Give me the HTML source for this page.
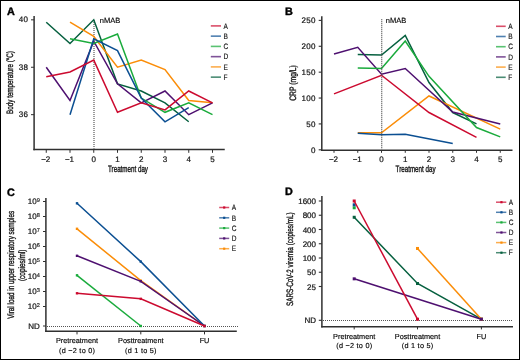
<!DOCTYPE html>
<html><head><meta charset="utf-8"><style>
html,body{margin:0;padding:0;background:#fff;}
.wrap{position:relative;width:520px;height:360px;overflow:hidden;background:#fff;}
svg{position:absolute;left:0;top:0;will-change:transform;text-rendering:geometricPrecision;}
text.ttl{stroke-width:0.38px;}
text.pl{stroke-width:0.4px;stroke:#000;}
text.lg{stroke-width:0.15px;}
text.cat{stroke-width:0.14px;fill:#000;stroke:#000;}
text{stroke:#1a1a1a;stroke-width:0.22px;stroke-linejoin:round;font-family:"Liberation Sans", sans-serif;}
</style></head><body><div class="wrap">
<svg width="520" height="360" viewBox="0 0 520 360">
<rect x="0" y="0" width="520" height="360" fill="#fff"/>
<line x1="34.10" y1="16.00" x2="34.10" y2="150.20" stroke="#303030" stroke-width="1.5" />
<line x1="33.40" y1="149.50" x2="224.75" y2="149.50" stroke="#303030" stroke-width="1.5" />
<line x1="31.00" y1="19.83" x2="34.10" y2="19.83" stroke="#303030" stroke-width="1" />
<text x="28.20" y="22.43" font-size="8" text-anchor="end" font-weight="normal" fill="#111" letter-spacing="0.3">40</text>
<line x1="31.00" y1="67.25" x2="34.10" y2="67.25" stroke="#303030" stroke-width="1" />
<text x="28.20" y="69.85" font-size="8" text-anchor="end" font-weight="normal" fill="#111" letter-spacing="0.3">38</text>
<line x1="31.00" y1="114.67" x2="34.10" y2="114.67" stroke="#303030" stroke-width="1" />
<text x="28.20" y="117.27" font-size="8" text-anchor="end" font-weight="normal" fill="#111" letter-spacing="0.3">36</text>
<line x1="46.25" y1="149.50" x2="46.25" y2="152.80" stroke="#303030" stroke-width="1" />
<text x="45.75" y="162.20" font-size="8" text-anchor="middle" font-weight="normal" fill="#111" >−2</text>
<line x1="70.00" y1="149.50" x2="70.00" y2="152.80" stroke="#303030" stroke-width="1" />
<text x="69.50" y="162.20" font-size="8" text-anchor="middle" font-weight="normal" fill="#111" >−1</text>
<line x1="93.75" y1="149.50" x2="93.75" y2="152.80" stroke="#303030" stroke-width="1" />
<text x="93.75" y="162.20" font-size="8" text-anchor="middle" font-weight="normal" fill="#111" >0</text>
<line x1="117.50" y1="149.50" x2="117.50" y2="152.80" stroke="#303030" stroke-width="1" />
<text x="117.50" y="162.20" font-size="8" text-anchor="middle" font-weight="normal" fill="#111" >1</text>
<line x1="141.25" y1="149.50" x2="141.25" y2="152.80" stroke="#303030" stroke-width="1" />
<text x="141.25" y="162.20" font-size="8" text-anchor="middle" font-weight="normal" fill="#111" >2</text>
<line x1="165.00" y1="149.50" x2="165.00" y2="152.80" stroke="#303030" stroke-width="1" />
<text x="165.00" y="162.20" font-size="8" text-anchor="middle" font-weight="normal" fill="#111" >3</text>
<line x1="188.75" y1="149.50" x2="188.75" y2="152.80" stroke="#303030" stroke-width="1" />
<text x="188.75" y="162.20" font-size="8" text-anchor="middle" font-weight="normal" fill="#111" >4</text>
<line x1="212.50" y1="149.50" x2="212.50" y2="152.80" stroke="#303030" stroke-width="1" />
<text x="212.50" y="162.20" font-size="8" text-anchor="middle" font-weight="normal" fill="#111" >5</text>
<text class="ttl" x="128.00" y="171.70" font-size="9.3" text-anchor="middle" fill="#111" textLength="40" lengthAdjust="spacingAndGlyphs">Treatment day</text>
<text class="ttl" transform="translate(13.00,82.50) rotate(-90)" x="0" y="0" font-size="9.3" text-anchor="middle" fill="#111" textLength="62.8" lengthAdjust="spacingAndGlyphs">Body temperature (°C)</text>
<text x="6.90" y="15.00" font-size="10.8" text-anchor="start" font-weight="bold" fill="#000" class="pl">A</text>
<text x="99.80" y="22.90" font-size="7.5" text-anchor="start" font-weight="normal" fill="#111" class="cat">nMAB</text>
<line x1="94.00" y1="20.00" x2="94.00" y2="148.80" stroke="#666" stroke-width="1.3" stroke-dasharray="1,1"/>
<polyline points="46.25,22.20 70.00,43.54 93.75,19.83 117.50,83.85 141.25,90.96 165.00,102.81 188.75,121.78" fill="none" stroke="#06603f" stroke-width="1.5" stroke-linejoin="miter"/>
<polyline points="70.00,22.20 93.75,36.43 117.50,67.25 141.25,60.14 165.00,69.62 188.75,100.44 212.50,102.81" fill="none" stroke="#fb8d08" stroke-width="1.5" stroke-linejoin="miter"/>
<polyline points="46.25,67.25 70.00,100.44 93.75,41.17 117.50,83.85 141.25,102.81 165.00,90.96 188.75,114.67 212.50,102.81" fill="none" stroke="#4e1070" stroke-width="1.5" stroke-linejoin="miter"/>
<polyline points="70.00,38.80 93.75,43.54 117.50,34.06 141.25,98.07 165.00,112.30 188.75,102.81 212.50,114.67" fill="none" stroke="#1aab3c" stroke-width="1.5" stroke-linejoin="miter"/>
<polyline points="70.00,114.67 93.75,38.80 117.50,50.65 141.25,98.07 165.00,121.78 188.75,107.56" fill="none" stroke="#0b4f92" stroke-width="1.5" stroke-linejoin="miter"/>
<polyline points="46.25,76.73 70.00,71.99 93.75,60.14 117.50,112.30 141.25,102.81 165.00,109.93 188.75,90.96 212.50,102.81" fill="none" stroke="#cc0a2f" stroke-width="1.5" stroke-linejoin="miter"/>
<line x1="210.80" y1="25.90" x2="221.00" y2="25.90" stroke="#cc0a2f" stroke-width="1.6" stroke-opacity="0.72"/>
<text x="223.60" y="28.60" font-size="7.8" text-anchor="start" font-weight="normal" fill="#111" class="lg" textLength="4.37" lengthAdjust="spacingAndGlyphs">A</text>
<line x1="210.80" y1="36.15" x2="221.00" y2="36.15" stroke="#0b4f92" stroke-width="1.6" stroke-opacity="0.72"/>
<text x="223.60" y="38.85" font-size="7.8" text-anchor="start" font-weight="normal" fill="#111" class="lg" textLength="4.37" lengthAdjust="spacingAndGlyphs">B</text>
<line x1="210.80" y1="46.40" x2="221.00" y2="46.40" stroke="#1aab3c" stroke-width="1.6" stroke-opacity="0.72"/>
<text x="223.60" y="49.10" font-size="7.8" text-anchor="start" font-weight="normal" fill="#111" class="lg" textLength="4.73" lengthAdjust="spacingAndGlyphs">C</text>
<line x1="210.80" y1="56.65" x2="221.00" y2="56.65" stroke="#4e1070" stroke-width="1.6" stroke-opacity="0.72"/>
<text x="223.60" y="59.35" font-size="7.8" text-anchor="start" font-weight="normal" fill="#111" class="lg" textLength="4.73" lengthAdjust="spacingAndGlyphs">D</text>
<line x1="210.80" y1="66.90" x2="221.00" y2="66.90" stroke="#fb8d08" stroke-width="1.6" stroke-opacity="0.72"/>
<text x="223.60" y="69.60" font-size="7.8" text-anchor="start" font-weight="normal" fill="#111" class="lg" textLength="4.37" lengthAdjust="spacingAndGlyphs">E</text>
<line x1="210.80" y1="77.15" x2="221.00" y2="77.15" stroke="#06603f" stroke-width="1.6" stroke-opacity="0.72"/>
<text x="223.60" y="79.85" font-size="7.8" text-anchor="start" font-weight="normal" fill="#111" class="lg" textLength="4.00" lengthAdjust="spacingAndGlyphs">F</text>
<line x1="321.80" y1="16.25" x2="321.80" y2="150.90" stroke="#303030" stroke-width="1.5" />
<line x1="321.10" y1="150.20" x2="512.50" y2="150.20" stroke="#303030" stroke-width="1.5" />
<line x1="318.70" y1="149.80" x2="321.80" y2="149.80" stroke="#303030" stroke-width="1.1" />
<text x="315.80" y="152.80" font-size="8" text-anchor="end" font-weight="normal" fill="#111" letter-spacing="0.3">0</text>
<line x1="318.70" y1="123.92" x2="321.80" y2="123.92" stroke="#303030" stroke-width="1.1" />
<text x="315.80" y="126.92" font-size="8" text-anchor="end" font-weight="normal" fill="#111" letter-spacing="0.3">50</text>
<line x1="318.70" y1="98.04" x2="321.80" y2="98.04" stroke="#303030" stroke-width="1.1" />
<text x="315.80" y="101.04" font-size="8" text-anchor="end" font-weight="normal" fill="#111" letter-spacing="0.3">100</text>
<line x1="318.70" y1="72.16" x2="321.80" y2="72.16" stroke="#303030" stroke-width="1.1" />
<text x="315.80" y="75.16" font-size="8" text-anchor="end" font-weight="normal" fill="#111" letter-spacing="0.3">150</text>
<line x1="318.70" y1="46.28" x2="321.80" y2="46.28" stroke="#303030" stroke-width="1.1" />
<text x="315.80" y="49.28" font-size="8" text-anchor="end" font-weight="normal" fill="#111" letter-spacing="0.3">200</text>
<line x1="318.70" y1="20.40" x2="321.80" y2="20.40" stroke="#303030" stroke-width="1.1" />
<text x="315.80" y="23.40" font-size="8" text-anchor="end" font-weight="normal" fill="#111" letter-spacing="0.3">250</text>
<line x1="334.00" y1="150.20" x2="334.00" y2="152.80" stroke="#303030" stroke-width="1" />
<text x="333.50" y="162.20" font-size="8" text-anchor="middle" font-weight="normal" fill="#111" >−2</text>
<line x1="357.75" y1="150.20" x2="357.75" y2="152.80" stroke="#303030" stroke-width="1" />
<text x="357.25" y="162.20" font-size="8" text-anchor="middle" font-weight="normal" fill="#111" >−1</text>
<line x1="381.50" y1="150.20" x2="381.50" y2="152.80" stroke="#303030" stroke-width="1" />
<text x="381.50" y="162.20" font-size="8" text-anchor="middle" font-weight="normal" fill="#111" >0</text>
<line x1="405.25" y1="150.20" x2="405.25" y2="152.80" stroke="#303030" stroke-width="1" />
<text x="405.25" y="162.20" font-size="8" text-anchor="middle" font-weight="normal" fill="#111" >1</text>
<line x1="429.00" y1="150.20" x2="429.00" y2="152.80" stroke="#303030" stroke-width="1" />
<text x="429.00" y="162.20" font-size="8" text-anchor="middle" font-weight="normal" fill="#111" >2</text>
<line x1="452.75" y1="150.20" x2="452.75" y2="152.80" stroke="#303030" stroke-width="1" />
<text x="452.75" y="162.20" font-size="8" text-anchor="middle" font-weight="normal" fill="#111" >3</text>
<line x1="476.50" y1="150.20" x2="476.50" y2="152.80" stroke="#303030" stroke-width="1" />
<text x="476.50" y="162.20" font-size="8" text-anchor="middle" font-weight="normal" fill="#111" >4</text>
<line x1="500.25" y1="150.20" x2="500.25" y2="152.80" stroke="#303030" stroke-width="1" />
<text x="500.25" y="162.20" font-size="8" text-anchor="middle" font-weight="normal" fill="#111" >5</text>
<text class="ttl" x="415.60" y="171.70" font-size="9.3" text-anchor="middle" fill="#111" textLength="40" lengthAdjust="spacingAndGlyphs">Treatment day</text>
<text class="ttl" transform="translate(296.40,83.00) rotate(-90)" x="0" y="0" font-size="9.3" text-anchor="middle" fill="#111" textLength="35.7" lengthAdjust="spacingAndGlyphs">CRP (mg/L)</text>
<text x="285.00" y="15.00" font-size="10.8" text-anchor="start" font-weight="bold" fill="#000" class="pl">B</text>
<text x="385.80" y="22.90" font-size="7.5" text-anchor="start" font-weight="normal" fill="#111" class="cat">nMAB</text>
<polyline points="357.75,54.56 381.50,55.08 405.25,35.41 429.00,82.51 452.75,112.53 476.50,123.92" fill="none" stroke="#06603f" stroke-width="1.5" stroke-linejoin="miter"/>
<polyline points="357.75,132.72 381.50,132.72 429.00,95.97 500.25,129.10" fill="none" stroke="#fb8d08" stroke-width="1.5" stroke-linejoin="miter"/>
<polyline points="334.00,54.04 357.75,47.32 381.50,74.23 405.25,68.54 452.75,112.02 500.25,123.92" fill="none" stroke="#4e1070" stroke-width="1.5" stroke-linejoin="miter"/>
<polyline points="357.75,68.02 381.50,68.54 405.25,41.10 429.00,76.30 476.50,127.54 500.25,136.86" fill="none" stroke="#1aab3c" stroke-width="1.5" stroke-linejoin="miter"/>
<polyline points="357.75,133.24 381.50,134.79 405.25,134.27 452.75,143.59" fill="none" stroke="#0b4f92" stroke-width="1.5" stroke-linejoin="miter"/>
<polyline points="334.00,93.90 381.50,75.27 429.00,112.53 476.50,137.38" fill="none" stroke="#cc0a2f" stroke-width="1.5" stroke-linejoin="miter"/>
<line x1="381.70" y1="19.20" x2="381.70" y2="149.50" stroke="#555" stroke-width="1.3" stroke-dasharray="1,1"/>
<line x1="496.00" y1="26.30" x2="505.70" y2="26.30" stroke="#cc0a2f" stroke-width="1.6" stroke-opacity="0.72"/>
<text x="508.20" y="29.00" font-size="7.8" text-anchor="start" font-weight="normal" fill="#111" class="lg" textLength="4.37" lengthAdjust="spacingAndGlyphs">A</text>
<line x1="496.00" y1="36.50" x2="505.70" y2="36.50" stroke="#0b4f92" stroke-width="1.6" stroke-opacity="0.72"/>
<text x="508.20" y="39.20" font-size="7.8" text-anchor="start" font-weight="normal" fill="#111" class="lg" textLength="4.37" lengthAdjust="spacingAndGlyphs">B</text>
<line x1="496.00" y1="46.70" x2="505.70" y2="46.70" stroke="#1aab3c" stroke-width="1.6" stroke-opacity="0.72"/>
<text x="508.20" y="49.40" font-size="7.8" text-anchor="start" font-weight="normal" fill="#111" class="lg" textLength="4.73" lengthAdjust="spacingAndGlyphs">C</text>
<line x1="496.00" y1="56.90" x2="505.70" y2="56.90" stroke="#4e1070" stroke-width="1.6" stroke-opacity="0.72"/>
<text x="508.20" y="59.60" font-size="7.8" text-anchor="start" font-weight="normal" fill="#111" class="lg" textLength="4.73" lengthAdjust="spacingAndGlyphs">D</text>
<line x1="496.00" y1="67.10" x2="505.70" y2="67.10" stroke="#fb8d08" stroke-width="1.6" stroke-opacity="0.72"/>
<text x="508.20" y="69.80" font-size="7.8" text-anchor="start" font-weight="normal" fill="#111" class="lg" textLength="4.37" lengthAdjust="spacingAndGlyphs">E</text>
<line x1="496.00" y1="77.30" x2="505.70" y2="77.30" stroke="#06603f" stroke-width="1.6" stroke-opacity="0.72"/>
<text x="508.20" y="80.00" font-size="7.8" text-anchor="start" font-weight="normal" fill="#111" class="lg" textLength="4.00" lengthAdjust="spacingAndGlyphs">F</text>
<line x1="45.90" y1="198.10" x2="45.90" y2="331.95" stroke="#303030" stroke-width="1.5" />
<line x1="45.20" y1="331.25" x2="236.80" y2="331.25" stroke="#303030" stroke-width="1.5" />
<line x1="43.00" y1="306.50" x2="45.90" y2="306.50" stroke="#303030" stroke-width="1" />
<text x="36.60" y="308.90" font-size="8" text-anchor="end" font-weight="normal" fill="#111" >10</text>
<text x="36.70" y="306.90" font-size="5.6" text-anchor="start" font-weight="normal" fill="#111" style="stroke-width:0.15px">2</text>
<line x1="43.00" y1="291.50" x2="45.90" y2="291.50" stroke="#303030" stroke-width="1" />
<text x="36.60" y="293.90" font-size="8" text-anchor="end" font-weight="normal" fill="#111" >10</text>
<text x="36.70" y="291.90" font-size="5.6" text-anchor="start" font-weight="normal" fill="#111" style="stroke-width:0.15px">3</text>
<line x1="43.00" y1="276.50" x2="45.90" y2="276.50" stroke="#303030" stroke-width="1" />
<text x="36.60" y="278.90" font-size="8" text-anchor="end" font-weight="normal" fill="#111" >10</text>
<text x="36.70" y="276.90" font-size="5.6" text-anchor="start" font-weight="normal" fill="#111" style="stroke-width:0.15px">4</text>
<line x1="43.00" y1="261.50" x2="45.90" y2="261.50" stroke="#303030" stroke-width="1" />
<text x="36.60" y="263.90" font-size="8" text-anchor="end" font-weight="normal" fill="#111" >10</text>
<text x="36.70" y="261.90" font-size="5.6" text-anchor="start" font-weight="normal" fill="#111" style="stroke-width:0.15px">5</text>
<line x1="43.00" y1="246.50" x2="45.90" y2="246.50" stroke="#303030" stroke-width="1" />
<text x="36.60" y="248.90" font-size="8" text-anchor="end" font-weight="normal" fill="#111" >10</text>
<text x="36.70" y="246.90" font-size="5.6" text-anchor="start" font-weight="normal" fill="#111" style="stroke-width:0.15px">6</text>
<line x1="43.00" y1="231.50" x2="45.90" y2="231.50" stroke="#303030" stroke-width="1" />
<text x="36.60" y="233.90" font-size="8" text-anchor="end" font-weight="normal" fill="#111" >10</text>
<text x="36.70" y="231.90" font-size="5.6" text-anchor="start" font-weight="normal" fill="#111" style="stroke-width:0.15px">7</text>
<line x1="43.00" y1="216.50" x2="45.90" y2="216.50" stroke="#303030" stroke-width="1" />
<text x="36.60" y="218.90" font-size="8" text-anchor="end" font-weight="normal" fill="#111" >10</text>
<text x="36.70" y="216.90" font-size="5.6" text-anchor="start" font-weight="normal" fill="#111" style="stroke-width:0.15px">8</text>
<line x1="43.00" y1="201.50" x2="45.90" y2="201.50" stroke="#303030" stroke-width="1" />
<text x="36.60" y="203.90" font-size="8" text-anchor="end" font-weight="normal" fill="#111" >10</text>
<text x="36.70" y="201.90" font-size="5.6" text-anchor="start" font-weight="normal" fill="#111" style="stroke-width:0.15px">9</text>
<line x1="43.00" y1="326.00" x2="45.90" y2="326.00" stroke="#303030" stroke-width="1" />
<text x="39.90" y="329.00" font-size="8" text-anchor="end" font-weight="normal" fill="#111" >ND</text>
<line x1="47.00" y1="326.50" x2="238.00" y2="326.50" stroke="#555" stroke-width="1" stroke-dasharray="1,1"/>
<line x1="77.00" y1="331.25" x2="77.00" y2="334.40" stroke="#303030" stroke-width="1" />
<line x1="140.80" y1="331.25" x2="140.80" y2="334.40" stroke="#303030" stroke-width="1" />
<line x1="204.50" y1="331.25" x2="204.50" y2="334.40" stroke="#303030" stroke-width="1" />
<text x="77.00" y="343.00" font-size="7.3" text-anchor="middle" font-weight="normal" fill="#111" class="cat">Pretreatment</text>
<text x="77.12" y="352.50" font-size="7.3" text-anchor="middle" font-weight="normal" fill="#111" class="cat" letter-spacing="0.25">(d −2 to 0)</text>
<text x="140.80" y="343.00" font-size="7.3" text-anchor="middle" font-weight="normal" fill="#111" class="cat">Posttreatment</text>
<text x="140.92" y="352.50" font-size="7.3" text-anchor="middle" font-weight="normal" fill="#111" class="cat" letter-spacing="0.25">(d 1 to 5)</text>
<text x="204.50" y="342.80" font-size="7.3" text-anchor="middle" font-weight="normal" fill="#111" class="cat">FU</text>
<text class="ttl" transform="translate(14.10,264.80) rotate(-90)" x="0" y="0" font-size="9.3" text-anchor="middle" fill="#111" textLength="108" lengthAdjust="spacingAndGlyphs">Viral load in upper respiratory samples</text>
<text class="ttl" transform="translate(25.30,265.30) rotate(-90)" x="0" y="0" font-size="9.3" text-anchor="middle" fill="#111" textLength="31.5" lengthAdjust="spacingAndGlyphs">(copies/ml)</text>
<text x="7.00" y="196.10" font-size="10.8" text-anchor="start" font-weight="bold" fill="#000" class="pl">C</text>
<polyline points="77.00,228.80 140.80,280.70 204.50,326.00" fill="none" stroke="#fb8d08" stroke-width="1.5" stroke-linejoin="miter"/>
<rect x="75.80" y="227.60" width="2.4" height="2.4" fill="#fb8d08"/>
<rect x="139.60" y="279.50" width="2.4" height="2.4" fill="#fb8d08"/>
<rect x="203.30" y="324.80" width="2.4" height="2.4" fill="#fb8d08"/>
<polyline points="77.00,255.80 140.80,281.30 204.50,326.00" fill="none" stroke="#4e1070" stroke-width="1.5" stroke-linejoin="miter"/>
<rect x="75.80" y="254.60" width="2.4" height="2.4" fill="#4e1070"/>
<rect x="139.60" y="280.10" width="2.4" height="2.4" fill="#4e1070"/>
<rect x="203.30" y="324.80" width="2.4" height="2.4" fill="#4e1070"/>
<polyline points="77.00,275.30 140.80,326.00" fill="none" stroke="#1aab3c" stroke-width="1.5" stroke-linejoin="miter"/>
<rect x="75.80" y="274.10" width="2.4" height="2.4" fill="#1aab3c"/>
<rect x="139.60" y="324.80" width="2.4" height="2.4" fill="#1aab3c"/>
<polyline points="77.00,203.30 140.80,261.65 204.50,326.00" fill="none" stroke="#0b4f92" stroke-width="1.5" stroke-linejoin="miter"/>
<rect x="75.80" y="202.10" width="2.4" height="2.4" fill="#0b4f92"/>
<rect x="139.60" y="260.45" width="2.4" height="2.4" fill="#0b4f92"/>
<rect x="203.30" y="324.80" width="2.4" height="2.4" fill="#0b4f92"/>
<polyline points="77.00,293.30 140.80,298.85 204.50,326.00" fill="none" stroke="#cc0a2f" stroke-width="1.5" stroke-linejoin="miter"/>
<rect x="75.80" y="292.10" width="2.4" height="2.4" fill="#cc0a2f"/>
<rect x="139.60" y="297.65" width="2.4" height="2.4" fill="#cc0a2f"/>
<rect x="203.30" y="324.80" width="2.4" height="2.4" fill="#cc0a2f"/>
<line x1="219.20" y1="207.50" x2="229.20" y2="207.50" stroke="#cc0a2f" stroke-width="1.5" stroke-opacity="0.72"/>
<rect x="223.10" y="206.40" width="2.2" height="2.2" fill="#cc0a2f"/>
<text x="231.70" y="210.20" font-size="7.8" text-anchor="start" font-weight="normal" fill="#111" class="lg" textLength="4.37" lengthAdjust="spacingAndGlyphs">A</text>
<line x1="219.20" y1="217.80" x2="229.20" y2="217.80" stroke="#0b4f92" stroke-width="1.5" stroke-opacity="0.72"/>
<rect x="223.10" y="216.70" width="2.2" height="2.2" fill="#0b4f92"/>
<text x="231.70" y="220.50" font-size="7.8" text-anchor="start" font-weight="normal" fill="#111" class="lg" textLength="4.37" lengthAdjust="spacingAndGlyphs">B</text>
<line x1="219.20" y1="228.10" x2="229.20" y2="228.10" stroke="#1aab3c" stroke-width="1.5" stroke-opacity="0.72"/>
<rect x="223.10" y="227.00" width="2.2" height="2.2" fill="#1aab3c"/>
<text x="231.70" y="230.80" font-size="7.8" text-anchor="start" font-weight="normal" fill="#111" class="lg" textLength="4.73" lengthAdjust="spacingAndGlyphs">C</text>
<line x1="219.20" y1="238.40" x2="229.20" y2="238.40" stroke="#4e1070" stroke-width="1.5" stroke-opacity="0.72"/>
<rect x="223.10" y="237.30" width="2.2" height="2.2" fill="#4e1070"/>
<text x="231.70" y="241.10" font-size="7.8" text-anchor="start" font-weight="normal" fill="#111" class="lg" textLength="4.73" lengthAdjust="spacingAndGlyphs">D</text>
<line x1="219.20" y1="248.70" x2="229.20" y2="248.70" stroke="#fb8d08" stroke-width="1.5" stroke-opacity="0.72"/>
<rect x="223.10" y="247.60" width="2.2" height="2.2" fill="#fb8d08"/>
<text x="231.70" y="251.40" font-size="7.8" text-anchor="start" font-weight="normal" fill="#111" class="lg" textLength="4.37" lengthAdjust="spacingAndGlyphs">E</text>
<line x1="321.90" y1="196.00" x2="321.90" y2="327.50" stroke="#303030" stroke-width="1.5" />
<line x1="321.20" y1="326.80" x2="513.00" y2="326.80" stroke="#303030" stroke-width="1.5" />
<line x1="318.80" y1="201.00" x2="321.90" y2="201.00" stroke="#303030" stroke-width="1.1" />
<text x="316.00" y="204.00" font-size="8" text-anchor="end" font-weight="normal" fill="#111" >1600</text>
<line x1="318.80" y1="215.25" x2="321.90" y2="215.25" stroke="#303030" stroke-width="1.1" />
<text x="316.00" y="218.25" font-size="8" text-anchor="end" font-weight="normal" fill="#111" >800</text>
<line x1="318.80" y1="229.50" x2="321.90" y2="229.50" stroke="#303030" stroke-width="1.1" />
<text x="316.00" y="232.50" font-size="8" text-anchor="end" font-weight="normal" fill="#111" >400</text>
<line x1="318.80" y1="243.75" x2="321.90" y2="243.75" stroke="#303030" stroke-width="1.1" />
<text x="316.00" y="246.75" font-size="8" text-anchor="end" font-weight="normal" fill="#111" >200</text>
<line x1="318.80" y1="258.00" x2="321.90" y2="258.00" stroke="#303030" stroke-width="1.1" />
<text x="316.00" y="261.00" font-size="8" text-anchor="end" font-weight="normal" fill="#111" >100</text>
<line x1="318.80" y1="272.25" x2="321.90" y2="272.25" stroke="#303030" stroke-width="1.1" />
<text x="316.00" y="275.25" font-size="8" text-anchor="end" font-weight="normal" fill="#111" >50</text>
<line x1="318.80" y1="286.50" x2="321.90" y2="286.50" stroke="#303030" stroke-width="1.1" />
<text x="316.00" y="289.50" font-size="8" text-anchor="end" font-weight="normal" fill="#111" >25</text>
<line x1="318.80" y1="320.30" x2="321.90" y2="320.30" stroke="#303030" stroke-width="1.1" />
<text x="316.00" y="323.00" font-size="8" text-anchor="end" font-weight="normal" fill="#111" >ND</text>
<line x1="323.00" y1="320.50" x2="513.00" y2="320.50" stroke="#555" stroke-width="1" stroke-dasharray="1,1"/>
<line x1="354.20" y1="326.80" x2="354.20" y2="329.40" stroke="#303030" stroke-width="1" />
<line x1="417.50" y1="326.80" x2="417.50" y2="329.40" stroke="#303030" stroke-width="1" />
<line x1="481.40" y1="326.80" x2="481.40" y2="329.40" stroke="#303030" stroke-width="1" />
<text x="354.20" y="338.50" font-size="7.3" text-anchor="middle" font-weight="normal" fill="#111" class="cat">Pretreatment</text>
<text x="354.32" y="348.00" font-size="7.3" text-anchor="middle" font-weight="normal" fill="#111" class="cat" letter-spacing="0.25">(d −2 to 0)</text>
<text x="417.50" y="338.50" font-size="7.3" text-anchor="middle" font-weight="normal" fill="#111" class="cat">Posttreatment</text>
<text x="417.62" y="348.00" font-size="7.3" text-anchor="middle" font-weight="normal" fill="#111" class="cat" letter-spacing="0.25">(d 1 to 5)</text>
<text x="481.40" y="338.50" font-size="7.3" text-anchor="middle" font-weight="normal" fill="#111" class="cat">FU</text>
<text class="ttl" transform="translate(293.00,259.20) rotate(-90)" x="0" y="0" font-size="9.3" text-anchor="middle" fill="#111" textLength="93.5" lengthAdjust="spacingAndGlyphs">SARS-CoV-2 viremia (copies/mL)</text>
<text x="285.00" y="194.90" font-size="10.8" text-anchor="start" font-weight="bold" fill="#000" class="pl">D</text>
<polyline points="354.20,217.27 417.50,283.52 481.40,319.20" fill="none" stroke="#06603f" stroke-width="1.5" stroke-linejoin="miter"/>
<rect x="352.70" y="215.77" width="3" height="3" fill="#06603f"/>
<rect x="416.00" y="282.02" width="3" height="3" fill="#06603f"/>
<rect x="479.90" y="317.70" width="3" height="3" fill="#06603f"/>
<polyline points="417.50,248.47 481.40,319.20" fill="none" stroke="#fb8d08" stroke-width="1.5" stroke-linejoin="miter"/>
<rect x="416.00" y="246.97" width="3" height="3" fill="#fb8d08"/>
<rect x="479.90" y="317.70" width="3" height="3" fill="#fb8d08"/>
<polyline points="354.20,278.83 481.40,319.20" fill="none" stroke="#4e1070" stroke-width="1.5" stroke-linejoin="miter"/>
<rect x="352.70" y="277.33" width="3" height="3" fill="#4e1070"/>
<rect x="479.90" y="317.70" width="3" height="3" fill="#4e1070"/>
<rect x="352.70" y="206.29" width="3" height="3" fill="#1aab3c"/>
<rect x="352.70" y="203.30" width="3" height="3" fill="#0b4f92"/>
<polyline points="354.20,201.00 417.50,319.20" fill="none" stroke="#cc0a2f" stroke-width="1.5" stroke-linejoin="miter"/>
<rect x="352.70" y="199.50" width="3" height="3" fill="#cc0a2f"/>
<rect x="416.00" y="317.70" width="3" height="3" fill="#cc0a2f"/>
<line x1="496.00" y1="202.20" x2="506.30" y2="202.20" stroke="#cc0a2f" stroke-width="1.5" stroke-opacity="0.72"/>
<rect x="500.35" y="201.10" width="2.2" height="2.2" fill="#cc0a2f"/>
<text x="508.80" y="204.90" font-size="7.8" text-anchor="start" font-weight="normal" fill="#111" class="lg" textLength="4.37" lengthAdjust="spacingAndGlyphs">A</text>
<line x1="496.00" y1="212.30" x2="506.30" y2="212.30" stroke="#0b4f92" stroke-width="1.5" stroke-opacity="0.72"/>
<rect x="500.35" y="211.20" width="2.2" height="2.2" fill="#0b4f92"/>
<text x="508.80" y="215.00" font-size="7.8" text-anchor="start" font-weight="normal" fill="#111" class="lg" textLength="4.37" lengthAdjust="spacingAndGlyphs">B</text>
<line x1="496.00" y1="222.40" x2="506.30" y2="222.40" stroke="#1aab3c" stroke-width="1.5" stroke-opacity="0.72"/>
<rect x="500.35" y="221.30" width="2.2" height="2.2" fill="#1aab3c"/>
<text x="508.80" y="225.10" font-size="7.8" text-anchor="start" font-weight="normal" fill="#111" class="lg" textLength="4.73" lengthAdjust="spacingAndGlyphs">C</text>
<line x1="496.00" y1="232.50" x2="506.30" y2="232.50" stroke="#4e1070" stroke-width="1.5" stroke-opacity="0.72"/>
<rect x="500.35" y="231.40" width="2.2" height="2.2" fill="#4e1070"/>
<text x="508.80" y="235.20" font-size="7.8" text-anchor="start" font-weight="normal" fill="#111" class="lg" textLength="4.73" lengthAdjust="spacingAndGlyphs">D</text>
<line x1="496.00" y1="242.60" x2="506.30" y2="242.60" stroke="#fb8d08" stroke-width="1.5" stroke-opacity="0.72"/>
<rect x="500.35" y="241.50" width="2.2" height="2.2" fill="#fb8d08"/>
<text x="508.80" y="245.30" font-size="7.8" text-anchor="start" font-weight="normal" fill="#111" class="lg" textLength="4.37" lengthAdjust="spacingAndGlyphs">E</text>
<line x1="496.00" y1="252.70" x2="506.30" y2="252.70" stroke="#06603f" stroke-width="1.5" stroke-opacity="0.72"/>
<rect x="500.35" y="251.60" width="2.2" height="2.2" fill="#06603f"/>
<text x="508.80" y="255.40" font-size="7.8" text-anchor="start" font-weight="normal" fill="#111" class="lg" textLength="4.00" lengthAdjust="spacingAndGlyphs">F</text>
<rect x="0.5" y="0.5" width="519" height="359" fill="none" stroke="#000" stroke-width="1"/>
</svg></div></body></html>
